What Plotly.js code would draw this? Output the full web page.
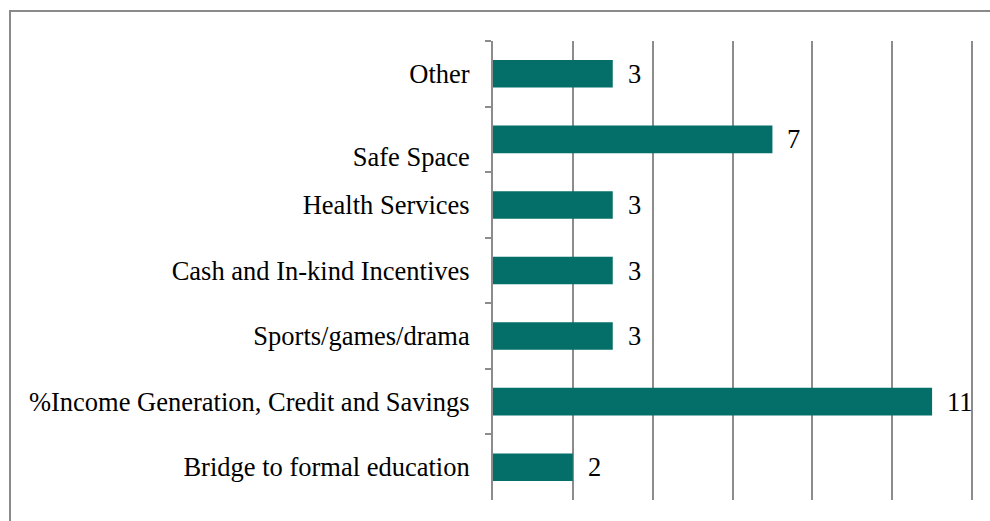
<!DOCTYPE html>
<html>
<head>
<meta charset="utf-8">
<script src="https://cdn.plot.ly/plotly-3.0.1.min.js"></script>
<style>html,body{margin:0;padding:0;background:#fff;}#chart{width:990px;height:521px;}</style>
</head>
<body>
<div id="chart"></div>
<script>
// Data (top to bottom as in the picture)
const categories = [
  "Other",
  "<br>Safe Space",
  "Health Services",
  "Cash and In-kind Incentives",
  "Sports/games/drama",
  "%Income Generation, Credit and Savings",
  "Bridge to formal education"
];
const values = [3, 7, 3, 3, 3, 11, 2];
const valueLabels = ["3", "7", "3", "3", "3", "11", "2"];

const FONT = "Liberation Serif";

const trace = {
  type: "bar",
  orientation: "h",
  y: categories,
  x: values,
  width: 0.42,
  marker: { color: "#036F68", line: { width: 0 } },
  hoverinfo: "none"
};

const annotations = values.map((v, i) => ({
  x: v, y: categories[i], xref: "x", yref: "y",
  text: valueLabels[i], showarrow: false,
  xanchor: "left", xshift: 13, yshift: 0,
  font: { family: FONT, size: 26.5, color: "#000" }
}));

const layout = {
  width: 990, height: 521,
  margin: { l: 493, r: 16, t: 41, b: 21, pad: 0 },
  paper_bgcolor: "#fff", plot_bgcolor: "#fff",
  showlegend: false,
  font: { family: FONT, size: 26.5, color: "#000" },
  xaxis: {
    range: [0, 12.05], dtick: 2, tick0: 0,
    showgrid: true, gridcolor: "#8c8c8c", gridwidth: 2,
    zeroline: false, showline: false, showticklabels: false, ticks: "",
    fixedrange: true
  },
  yaxis: {
    type: "category", autorange: "reversed",
    showline: true, linecolor: "#8c8c8c", linewidth: 2,
    ticks: "outside", tickson: "boundaries", ticklen: 6, tickcolor: "#8c8c8c", tickwidth: 2,
    showgrid: false, ticklabelstandoff: 16,
    tickfont: { family: FONT, size: 26.5, color: "#000" },
    fixedrange: true
  },
  annotations: annotations,
  shapes: [{
    type: "rect", xref: "paper", yref: "paper",
    x0: (10 - 493) / 481, x1: 1.2, y0: -0.2, y1: 1 + 30 / 459,
    line: { color: "#8a8a8a", width: 2 }, fillcolor: "rgba(0,0,0,0)", layer: "below"
  }],
  bargap: 0.58
};

Plotly.newPlot("chart", [trace], layout, { displayModeBar: false, staticPlot: true });
</script>
</body>
</html>
